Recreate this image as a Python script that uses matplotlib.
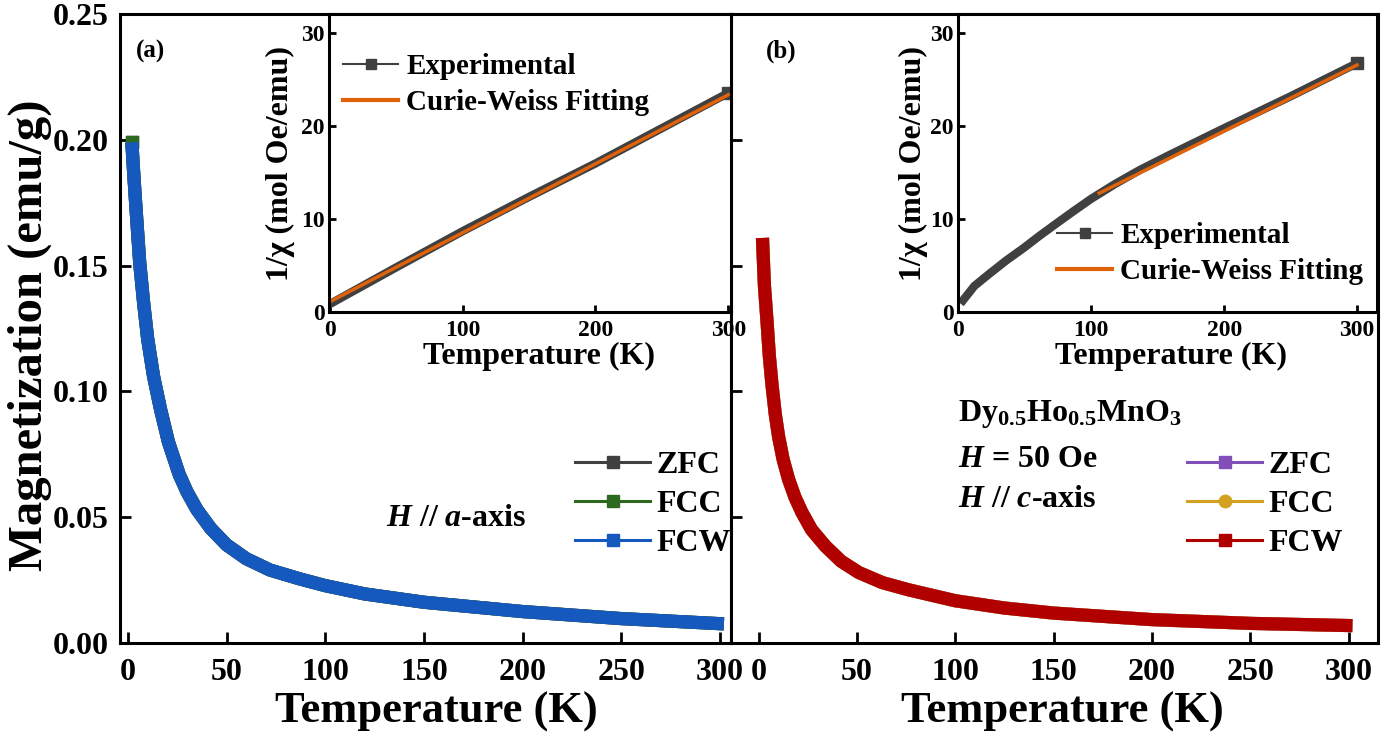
import matplotlib
matplotlib.use("Agg")
import matplotlib.pyplot as plt
from matplotlib.lines import Line2D

plt.rcParams.update({
    "font.family": ["Liberation Serif", "DejaVu Serif"],
    "font.weight": "bold",
    "axes.labelweight": "bold",
    "mathtext.fontset": "custom",
    "mathtext.rm": "Liberation Serif:bold",
    "mathtext.bf": "Liberation Serif:bold",
    "mathtext.it": "Liberation Serif:italic:bold",
    "axes.linewidth": 2.2,
})

# ---- data ----
# (a) H // a-axis, M(T); ZFC / FCC / FCW overlap completely
temp_a = [2, 3, 4, 6, 8, 10, 13, 16.5, 20.5, 26, 30, 35, 42, 50, 60, 72,
          87, 100, 120, 150, 200, 250, 302]
mag_a = [0.199, 0.186, 0.174, 0.151, 0.135, 0.121, 0.106, 0.093, 0.080,
         0.067, 0.060, 0.053, 0.0455, 0.039, 0.0335, 0.029, 0.0255, 0.0228,
         0.0195, 0.0162, 0.0125, 0.0097, 0.0076]

# (b) H // c-axis
temp_b = [2, 3, 4.3, 5.5, 6.8, 8.5, 10.2, 12.5, 15.3, 18.5, 22, 27, 34, 42,
          51, 63, 76, 100, 125, 150, 200, 250, 302]
mag_b = [0.161, 0.142, 0.128, 0.114, 0.103, 0.091, 0.082, 0.073, 0.065,
         0.058, 0.052, 0.045, 0.0385, 0.0325, 0.028, 0.024, 0.0212, 0.0168,
         0.0139, 0.0119, 0.0093, 0.0078, 0.0069]

# insets: 1/chi vs T
inv_temp_a = [2, 50, 100, 150, 200, 250, 300]
inv_chi_a = [1.0, 4.8, 8.7, 12.4, 16.0, 19.8, 23.6]
fit_temp_a = [0, 300]
fit_chi_a = [1.1, 23.4]

inv_temp_b = [3.5, 12, 23.6, 36, 48.7, 61, 73.8, 87, 100, 118, 136.5, 160,
              200, 249.5, 300]
inv_chi_b = [1.26, 2.8, 4.15, 5.55, 6.85, 8.2, 9.54, 10.9, 12.2, 13.8, 15.3,
             17.0, 19.8, 23.2, 26.8]
fit_temp_b = [106, 300]
fit_chi_b = [12.8, 26.6]

series_labels = ["ZFC", "FCC", "FCW"]
colors_a = ["#404040", "#2d6a1f", "#1558be"]
colors_b = ["#8050b8", "#d4a020", "#b00000"]
markers_b = ["s", "o", "s"]
GRAY = "#404040"
ORANGE = "#e0620a"

W, H = 1383, 738


def px_box(x0, y0, x1, y1):
    return [x0 / W, 1 - y1 / H, (x1 - x0) / W, (y1 - y0) / H]


fig = plt.figure(figsize=(W / 100, H / 100), dpi=100)
ax_a = fig.add_axes(px_box(120, 14, 731, 643))
ax_b = fig.add_axes(px_box(731, 14, 1378, 643))
ins_a = fig.add_axes(px_box(329, 14, 731, 312))
ins_b = fig.add_axes(px_box(958, 14, 1377, 312))


def style_main(ax, xlim, ylabels=True):
    ax.set_xlim(*xlim)
    ax.set_ylim(0, 0.25)
    ax.set_xticks(range(0, 301, 50))
    ax.set_yticks([0, 0.05, 0.10, 0.15, 0.20, 0.25])
    ax.tick_params(axis="both", direction="in", length=8, width=2,
                   labelsize=23)
    ax.tick_params(axis="x", pad=11)
    ax.tick_params(axis="y", pad=8, labelleft=ylabels)
    ax.set_xlabel("Temperature (K)", fontsize=32, fontweight="bold")
    if ylabels:
        ax.set_yticklabels(["0.00", "0.05", "0.10", "0.15", "0.20", "0.25"])


def style_inset(ax, xlim, label_x, ylab_x):
    ax.set_xlim(*xlim)
    ax.set_ylim(0, 32.1)
    ax.set_xticks([0, 100, 200, 300])
    ax.set_yticks([0, 10, 20, 30])
    ax.tick_params(axis="both", direction="in", length=5, width=2,
                   labelsize=17)
    ax.tick_params(axis="x", pad=6)
    ax.tick_params(axis="y", pad=3)
    ax.set_xlabel("Temperature (K)", fontsize=23, fontweight="bold")
    ax.set_ylabel("1/χ (mol Oe/emu)", fontsize=23, fontweight="bold")
    ax.xaxis.set_label_coords(label_x, -0.10)
    ax.yaxis.set_label_coords(ylab_x, 0.50)


# ---- panel (a) ----
for i, (lab, col) in enumerate(zip(series_labels, colors_a)):
    ax_a.plot(temp_a, mag_a, color=col, lw=9.5, solid_capstyle="butt",
              solid_joinstyle="round", marker="s" if i < 2 else None,
              markevery=[0], ms=9)
style_main(ax_a, (-4, 305.6))
ax_a.set_ylabel("Magnetization (emu/g)", fontsize=35, fontweight="bold")
ax_a.yaxis.set_label_coords(-0.112, 0.489)
ax_a.xaxis.set_label_coords(0.517, -0.078)
fig.text(136 / W, 1 - 51 / H, "(a)", fontsize=18, fontweight="bold",
         va="center")
handles_a = [Line2D([], [], color=c, lw=2.2, marker="s", ms=9)
             for c in colors_a]
fig.legend(handles_a, series_labels, loc="upper left",
           bbox_to_anchor=(575 / W, 1 - 451 / H), frameon=False,
           fontsize=23, handlelength=2.35, handletextpad=0.2,
           labelspacing=0.3, borderpad=0, borderaxespad=0)
fig.text(386 / W, 1 - 526 / H, r"$H$ // $a$-axis", fontsize=23,
         fontweight="bold", va="baseline")

# ---- panel (b) ----
for lab, col in zip(series_labels, colors_b):
    ax_b.plot(temp_b, mag_b, color=col, lw=9.5, solid_capstyle="butt",
              solid_joinstyle="round")
style_main(ax_b, (-14, 315), ylabels=False)
ax_b.xaxis.set_label_coords(0.512, -0.078)
fig.text(766 / W, 1 - 51 / H, "(b)", fontsize=18, fontweight="bold",
         va="center")
handles_b = [Line2D([], [], color=c, lw=2.2, marker=m, ms=9)
             for c, m in zip(colors_b, markers_b)]
fig.legend(handles_b, series_labels, loc="upper left",
           bbox_to_anchor=(1187 / W, 1 - 451 / H), frameon=False,
           fontsize=23, handlelength=2.35, handletextpad=0.2,
           labelspacing=0.3, borderpad=0, borderaxespad=0)
fig.text(958 / W, 1 - 421 / H, r"Dy$_{0.5}$Ho$_{0.5}$MnO$_3$", fontsize=23,
         fontweight="bold", va="baseline")
fig.text(958 / W, 1 - 467 / H, r"$H$ = 50 Oe", fontsize=23,
         fontweight="bold", va="baseline")
fig.text(958 / W, 1 - 507 / H, r"$H$ // $c$-axis", fontsize=23,
         fontweight="bold", va="baseline")

# ---- insets ----
fit_handles = [Line2D([], [], color=GRAY, lw=1.5, marker="s", ms=7),
               Line2D([], [], color=ORANGE, lw=3)]
fit_labels = ["Experimental", "Curie-Weiss Fitting"]

ins_a.plot(inv_temp_a, inv_chi_a, color=GRAY, lw=6, marker="s",
           markevery=[-1], ms=8)
ins_a.plot(fit_temp_a, fit_chi_a, color=ORANGE, lw=2.5)
style_inset(ins_a, (-0.5, 302), 0.522, -0.085)
ins_a.legend(fit_handles, fit_labels, loc="upper left",
             bbox_to_anchor=(343 / W, 1 - 53 / H),
             bbox_transform=fig.transFigure, frameon=False, fontsize=21,
             handlelength=1.9, handletextpad=0.27, labelspacing=0.32,
             borderpad=0, borderaxespad=0)

ins_b.plot(inv_temp_b, inv_chi_b, color=GRAY, lw=6, marker="s",
           markevery=[-1], ms=8)
ins_b.plot(fit_temp_b, fit_chi_b, color=ORANGE, lw=2.5)
style_inset(ins_b, (-0.3, 315), 0.508, -0.072)
ins_b.legend(fit_handles, fit_labels, loc="upper left",
             bbox_to_anchor=(1057 / W, 1 - 222 / H),
             bbox_transform=fig.transFigure, frameon=False, fontsize=21,
             handlelength=1.9, handletextpad=0.27, labelspacing=0.32,
             borderpad=0, borderaxespad=0)

fig.savefig("out.png", dpi=100)
